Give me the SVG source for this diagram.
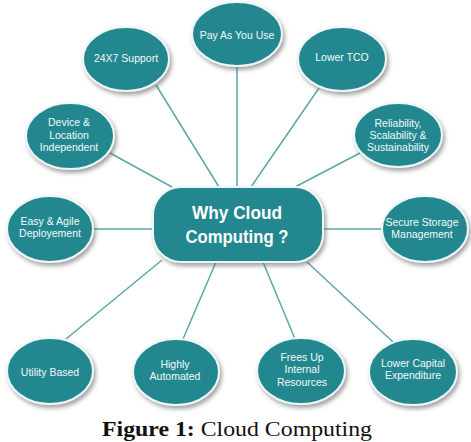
<svg xmlns="http://www.w3.org/2000/svg" width="471" height="442" viewBox="0 0 471 442">
<defs>
<filter id="sh" x="-20%" y="-20%" width="150%" height="150%">
<feDropShadow dx="2" dy="3" stdDeviation="2" flood-color="#555" flood-opacity="0.55"/>
</filter>
<style>
.n{fill:#21878f;stroke:#eef7f7;stroke-width:2;filter:url(#sh)}
.t{font-family:"Liberation Sans",Arial,sans-serif;font-size:10.5px;fill:#f2fafa;text-anchor:middle}
.c{stroke:#5aa8a6;stroke-width:1.5;fill:none}
.h{font-family:"Liberation Sans",Arial,sans-serif;font-size:19px;font-weight:bold;fill:#ffffff;text-anchor:middle}
.cap{font-family:"Liberation Serif","Times New Roman",serif;font-size:22px;fill:#111}
</style>
</defs>
<rect width="471" height="442" fill="#ffffff"/>
<g id="connectors">
<line class="c" x1="237" y1="66" x2="237" y2="187"/>
<line class="c" x1="156" y1="85" x2="219" y2="187"/>
<line class="c" x1="110" y1="153" x2="172" y2="187"/>
<line class="c" x1="319" y1="88" x2="251" y2="187"/>
<line class="c" x1="360" y1="153" x2="295" y2="187"/>
<line class="c" x1="93" y1="229" x2="153" y2="229"/>
<line class="c" x1="323" y1="229" x2="382" y2="229"/>
<line class="c" x1="162" y1="260" x2="66" y2="339"/>
<line class="c" x1="216" y1="262" x2="183" y2="339"/>
<line class="c" x1="263" y1="262" x2="295" y2="339"/>
<line class="c" x1="307" y1="262" x2="393" y2="342"/>
</g>
<g id="center">
<rect class="n" x="153" y="187" width="170" height="75" rx="28" ry="28"/>
<text class="h" x="237" y="219" textLength="90" lengthAdjust="spacingAndGlyphs">Why Cloud</text>
<text class="h" x="237" y="243" textLength="103" lengthAdjust="spacingAndGlyphs">Computing ?</text>
</g>
<g id="pay">
<ellipse class="n" cx="237" cy="34" rx="45" ry="32"/>
<text class="t" x="237" y="39">Pay As You Use</text>
</g>
<g id="support">
<ellipse class="n" cx="126" cy="59" rx="43" ry="32"/>
<text class="t" x="126" y="62">24X7 Support</text>
</g>
<g id="tco">
<ellipse class="n" cx="342" cy="59" rx="44" ry="32"/>
<text class="t" x="342" y="61">Lower TCO</text>
</g>
<g id="device">
<ellipse class="n" cx="70" cy="136" rx="44" ry="33"/>
<text class="t" x="69" y="126">Device &amp;</text>
<text class="t" x="69" y="139">Location</text>
<text class="t" x="69" y="151">Independent</text>
</g>
<g id="reliability">
<ellipse class="n" cx="398" cy="135" rx="44" ry="32"/>
<text class="t" x="398" y="127">Reliability,</text>
<text class="t" x="398" y="139">Scalability &amp;</text>
<text class="t" x="398" y="151">Sustainability</text>
</g>
<g id="easy">
<ellipse class="n" cx="50" cy="229" rx="43" ry="33"/>
<text class="t" x="50" y="225">Easy &amp; Agile</text>
<text class="t" x="50" y="237">Deployement</text>
</g>
<g id="secure">
<ellipse class="n" cx="425" cy="229" rx="43" ry="33"/>
<text class="t" x="422" y="226">Secure Storage</text>
<text class="t" x="422" y="238">Management</text>
</g>
<g id="utility">
<ellipse class="n" cx="50" cy="371" rx="43" ry="33"/>
<text class="t" x="50" y="376">Utility Based</text>
</g>
<g id="automated">
<ellipse class="n" cx="176" cy="372" rx="43" ry="33"/>
<text class="t" x="175" y="368">Highly</text>
<text class="t" x="175" y="380">Automated</text>
</g>
<g id="frees">
<ellipse class="n" cx="301" cy="371" rx="44" ry="33"/>
<text class="t" x="302" y="361">Frees Up</text>
<text class="t" x="302" y="373">Internal</text>
<text class="t" x="302" y="386">Resources</text>
</g>
<g id="capital">
<ellipse class="n" cx="413" cy="372" rx="44" ry="33"/>
<text class="t" x="413" y="367">Lower Capital</text>
<text class="t" x="413" y="379">Expenditure</text>
</g>
<text class="cap" x="102" y="436" textLength="270" lengthAdjust="spacingAndGlyphs"><tspan font-weight="bold">Figure 1:</tspan> Cloud Computing</text>
</svg>
